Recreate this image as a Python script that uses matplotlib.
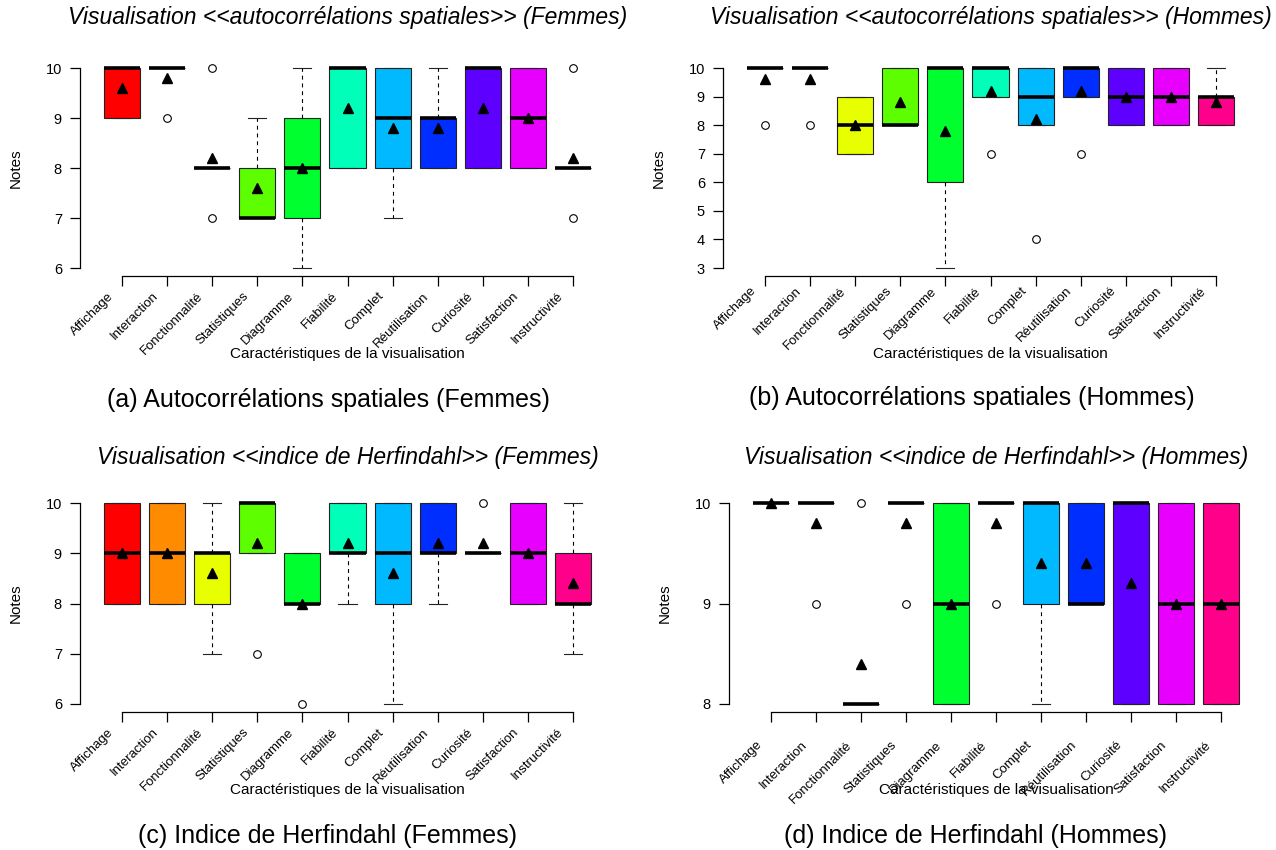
"""Boxplots des notes données aux caractéristiques des visualisations
(autocorrélations spatiales / indice de Herfindahl, Femmes / Hommes)."""
import matplotlib
matplotlib.use("Agg")
import matplotlib.pyplot as plt
from matplotlib.transforms import offset_copy

plt.rcParams["font.family"] = ["Liberation Sans", "DejaVu Sans"]

W, H = 1276, 850

caracteristiques = ["Affichage", "Interaction", "Fonctionnalité", "Statistiques",
                    "Diagramme", "Fiabilité", "Complet", "Réutilisation",
                    "Curiosité", "Satisfaction", "Instructivité"]

# R rainbow(11)
couleurs = ["#FF0000", "#FF8B00", "#E8FF00", "#5DFF00", "#00FF2E", "#00FFB9",
            "#00B9FF", "#002EFF", "#5D00FF", "#E800FF", "#FF008B"]

# notes individuelles (5 répondants par groupe), une liste par caractéristique
auto_femmes = [[9, 9, 10, 10, 10], [9, 10, 10, 10, 10], [7, 8, 8, 8, 10],
               [7, 7, 7, 8, 9], [6, 7, 8, 9, 10], [8, 8, 10, 10, 10],
               [7, 8, 9, 10, 10], [8, 8, 9, 9, 10], [8, 8, 10, 10, 10],
               [8, 8, 9, 10, 10], [7, 8, 8, 8, 10]]
auto_hommes = [[8, 10, 10, 10, 10], [8, 10, 10, 10, 10], [7, 7, 8, 9, 9],
               [8, 8, 8, 10, 10], [3, 6, 10, 10, 10], [7, 9, 10, 10, 10],
               [4, 8, 9, 10, 10], [7, 9, 10, 10, 10], [8, 8, 9, 10, 10],
               [8, 8, 9, 10, 10], [8, 8, 9, 9, 10]]
herf_femmes = [[8, 8, 9, 10, 10], [8, 8, 9, 10, 10], [7, 8, 9, 9, 10],
               [7, 9, 10, 10, 10], [6, 8, 8, 9, 9], [8, 9, 9, 10, 10],
               [6, 8, 9, 10, 10], [8, 9, 9, 10, 10], [9, 9, 9, 9, 10],
               [8, 8, 9, 10, 10], [7, 8, 8, 9, 10]]
herf_hommes = [[10, 10, 10, 10, 10], [9, 10, 10, 10, 10], [8, 8, 8, 8, 10],
               [9, 10, 10, 10, 10], [8, 8, 9, 10, 10], [9, 10, 10, 10, 10],
               [8, 9, 10, 10, 10], [9, 9, 9, 10, 10], [8, 8, 10, 10, 10],
               [8, 8, 9, 10, 10], [8, 8, 9, 10, 10]]

titres = ["Visualisation <<autocorrélations spatiales>> (Femmes)",
          "Visualisation <<autocorrélations spatiales>> (Hommes)",
          "Visualisation <<indice de Herfindahl>> (Femmes)",
          "Visualisation <<indice de Herfindahl>> (Hommes)"]
legendes = ["(a) Autocorrélations spatiales (Femmes)",
            "(b) Autocorrélations spatiales (Hommes)",
            "(c) Indice de Herfindahl (Femmes)",
            "(d) Indice de Herfindahl (Hommes)"]

# plot regions in pixels: left, right, top, bottom
regions = [(80, 615, 60, 276), (723, 1258, 60, 276),
           (80, 615, 495, 712), (729, 1263, 495, 712)]
caption_pos = [(328, 400), (972, 398), (328, 836), (975, 836)]

fig = plt.figure(figsize=(W / 100, H / 100), dpi=100)

for k, donnees in enumerate([auto_femmes, auto_hommes, herf_femmes, herf_hommes]):
    l, r, t, b = regions[k]
    ax = fig.add_axes([l / W, 1 - b / H, (r - l) / W, (b - t) / H])
    lo = min(min(d) for d in donnees)
    hi = max(max(d) for d in donnees)
    pad = 0.04 * (hi - lo)
    n = len(donnees)

    bp = ax.boxplot(donnees, positions=range(1, n + 1), widths=0.8,
                    patch_artist=True, whis=1.5, showmeans=True, capwidths=0.4,
                    boxprops=dict(edgecolor="#222222", linewidth=0.8),
                    medianprops=dict(color="black", linewidth=2.6,
                                     solid_capstyle="butt"),
                    whiskerprops=dict(color="black", linewidth=0.8,
                                      linestyle=(0, (3.5, 3.5))),
                    capprops=dict(color="#222222", linewidth=0.8),
                    flierprops=dict(marker="o", markersize=5.5, markerfacecolor="none",
                                    markeredgecolor="black", markeredgewidth=0.8),
                    meanprops=dict(marker="^", markersize=6.5, markerfacecolor="black",
                                   markeredgecolor="black"))
    for patch, c in zip(bp["boxes"], couleurs):
        patch.set_facecolor(c)

    ax.set_xlim(1 - 0.5 - 0.04 * n, n + 0.5 + 0.04 * n)
    ax.set_ylim(lo - pad, hi + pad)
    for s in ("top", "right"):
        ax.spines[s].set_visible(False)
    ax.spines["left"].set_bounds(lo, hi)
    ax.spines["bottom"].set_bounds(1, n)
    for s in ("left", "bottom"):
        ax.spines[s].set_linewidth(0.9)
    ax.set_yticks(range(lo, hi + 1))
    ax.set_xticks(range(1, n + 1))
    ax.set_xticklabels([])
    ax.tick_params(axis="both", length=7, width=0.9, labelsize=10.5, pad=6)

    # rotated category labels below the axis
    trans = offset_copy(ax.transData, fig=fig, x=-11, y=-6, units="dots")
    for i, lab in enumerate(caracteristiques, start=1):
        ax.text(i, lo - pad - 0.25, lab, rotation=45, ha="right", va="center",
                rotation_mode="anchor", fontsize=9.5, transform=trans, clip_on=False)

    ax.set_xlabel("Caractéristiques de la visualisation", fontsize=11)
    ax.xaxis.set_label_coords(0.5, -78 / (b - t))
    ax.xaxis.label.set_va("center")
    ax.set_ylabel("Notes", fontsize=11)
    ax.yaxis.set_label_coords(-64 / (r - l), 0.5)
    ax.yaxis.label.set_va("center")

    ty = 17.5 if k < 2 else 457.5
    fig.text((l + r) / 2 / W, 1 - ty / H, titres[k], ha="center", va="center",
             fontsize=16.5, style="italic")
    cx, cy = caption_pos[k]
    fig.text(cx / W, 1 - cy / H, legendes[k], ha="center", va="center", fontsize=18)

fig.savefig("out.png", dpi=100)
